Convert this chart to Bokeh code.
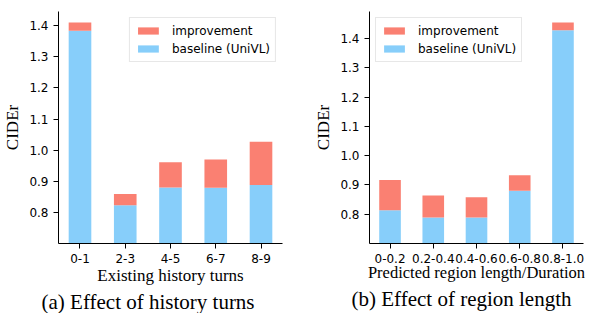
from bokeh.plotting import figure
from bokeh.layouts import row
from bokeh.models import (Range1d, FixedTicker, NumeralTickFormatter, Legend,
                          LegendItem, ColumnDataSource, Title)
from bokeh.embed import file_html
from bokeh.resources import INLINE

# ---- data ----
turn_groups = ["0-1", "2-3", "4-5", "6-7", "8-9"]
turn_baseline = [1.384, 0.823, 0.880, 0.879, 0.888]
turn_improvement = [0.026, 0.036, 0.081, 0.091, 0.139]

length_groups = ["0-0.2", "0.2-0.4", "0.4-0.6", "0.6-0.8", "0.8-1.0"]
length_baseline = [0.814, 0.789, 0.789, 0.880, 1.429]
length_improvement = [0.103, 0.075, 0.069, 0.053, 0.026]

y_ticks = [0.8, 0.9, 1.0, 1.1, 1.2, 1.3, 1.4]

captions = ["(a) Effect of history turns", "(b) Effect of region length"]

BLUE = "#87CEFA"
SALMON = "#FA8072"
SERIF = "Liberation Serif"
SANS = "DejaVu Sans"
FIG_H = 313


def make_chart(groups, baseline, improvement, y_end, xlabel, xlabel_size,
               width, border_left, border_top, border_right,
               label_standoff, legend_loc, caption, cap_offset):
    xs = list(range(len(groups)))
    src = ColumnDataSource(dict(x=xs, baseline=baseline, improvement=improvement))
    p = figure(width=width, height=FIG_H, output_backend="svg", toolbar_location=None,
               x_range=Range1d(-0.475, len(groups) - 1 + 0.475),
               y_range=Range1d(0.7, y_end),
               min_border_left=border_left, min_border_right=border_right,
               min_border_top=border_top, min_border_bottom=0)
    rs = p.vbar_stack(["baseline", "improvement"], x="x", width=0.5,
                      color=[BLUE, SALMON], line_color=None, source=src)
    p.outline_line_color = None
    p.xgrid.visible = False
    p.ygrid.visible = False

    p.xaxis.ticker = FixedTicker(ticks=xs)
    p.xaxis.major_label_overrides = {i: g for i, g in enumerate(groups)}
    p.yaxis.ticker = FixedTicker(ticks=y_ticks)
    p.yaxis.formatter = NumeralTickFormatter(format="0.0")
    for ax in (p.xaxis, p.yaxis):
        ax.axis_line_color = "black"
        ax.axis_line_width = 1
        ax.major_tick_line_color = "black"
        ax.major_tick_out = 5
        ax.major_tick_in = 0
        ax.minor_tick_line_color = None
        ax.major_label_text_font = SANS
        ax.major_label_text_font_size = "12px"
        ax.major_label_text_color = "black"
        ax.major_label_standoff = 5
        ax.axis_label_text_font = SERIF
        ax.axis_label_text_font_style = "normal"
        ax.axis_label_text_color = "black"
    p.xaxis.axis_label = xlabel
    p.xaxis.axis_label_text_font_size = xlabel_size
    p.xaxis.axis_label_standoff = label_standoff
    p.yaxis.axis_label = "CIDEr"
    p.yaxis.axis_label_text_font_size = "17px"
    p.yaxis.axis_label_standoff = 4

    legend = Legend(items=[LegendItem(label="improvement", renderers=[rs[1]]),
                           LegendItem(label="baseline (UniVL)", renderers=[rs[0]])],
                    location=legend_loc, margin=6, padding=5, spacing=3,
                    glyph_width=26, glyph_height=9, label_height=15,
                    label_standoff=11, label_text_font=SANS,
                    label_text_font_size="12px", label_text_color="black",
                    border_line_color="#d0d0d0", border_line_width=1,
                    background_fill_alpha=0.8)
    p.add_layout(legend)

    cap = Title(text=caption, align="left", offset=cap_offset, standoff=0,
                text_font=SERIF, text_font_size="21px", text_font_style="normal",
                text_color="black")
    p.add_layout(cap, "below")
    return p


p1 = make_chart(turn_groups, turn_baseline, turn_improvement, 1.4455,
                "Existing history turns", "17px",
                width=311, border_left=52, border_top=0, border_right=29,
                label_standoff=0, legend_loc="top_right",
                caption=captions[0], cap_offset=-17)
p2 = make_chart(length_groups, length_baseline, length_improvement, 1.493,
                "Predicted region length/Duration", "16.5px",
                width=276, border_left=54, border_top=11, border_right=4,
                label_standoff=-3, legend_loc="top_left",
                caption=captions[1], cap_offset=-18)

layout = row(p1, p2)
open("out.html", "w").write(file_html(layout, INLINE))
